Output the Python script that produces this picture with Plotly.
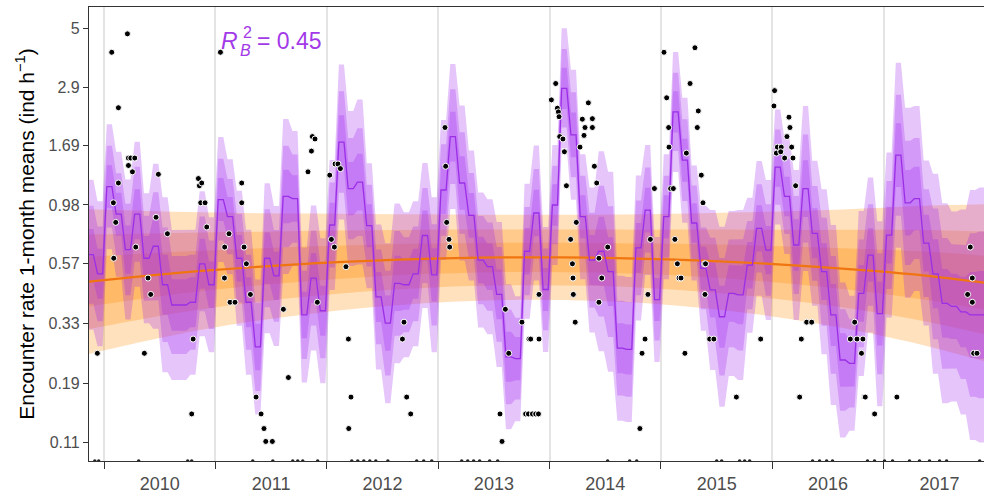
import math
import plotly.graph_objects as go

# ---------------------------------------------------------------------------
# Monthly model estimates (Nov 2009 - Dec 2017): posterior median encounter
# rate and log10 half-width of the 95% credible interval
# ---------------------------------------------------------------------------
first_year, first_month = 2009, 11

median_rate = [
    0.62, 0.52,
    1.16, 0.90, 0.65, 0.90, 0.60, 0.67, 0.47, 0.39, 0.39, 0.40, 0.57, 0.47,
    1.03, 0.88, 0.60, 0.40, 0.265, 0.60, 0.51, 1.06, 1.04, 0.356, 0.50, 0.37,
    0.815, 1.75, 1.14, 1.21, 0.81, 0.42, 0.33, 0.476, 0.47, 0.52, 0.74, 0.515,
    1.125, 1.84, 1.20, 0.89, 0.59, 0.555, 0.43, 0.242, 0.238, 0.64, 0.91, 0.45,
    0.98, 2.87, 1.87, 0.88, 0.59, 0.64, 0.53, 0.262, 0.259, 0.66, 0.935, 0.41,
    0.88, 2.31, 1.48, 0.83, 0.547, 0.448, 0.35, 0.434, 0.428, 0.563, 0.79, 0.647,
    1.39, 1.06, 0.678, 1.14, 0.755, 0.53, 0.356, 0.235, 0.228, 0.434, 0.618, 0.36,
    0.743, 1.55, 1.00, 1.04, 0.69, 0.52, 0.396, 0.385, 0.366, 0.356, 0.356, 0.50,
]

band_halfwidth = [
    0.30, 0.29,
    0.25, 0.25, 0.28, 0.29, 0.26, 0.33, 0.35, 0.30, 0.30, 0.29, 0.29, 0.27,
    0.25, 0.23, 0.27, 0.29, 0.27, 0.30, 0.28, 0.31, 0.27, 0.27, 0.29, 0.29,
    0.26, 0.31, 0.31, 0.33, 0.25, 0.29, 0.32, 0.32, 0.29, 0.29, 0.29, 0.31,
    0.28, 0.29, 0.31, 0.26, 0.27, 0.27, 0.29, 0.29, 0.25, 0.27, 0.27, 0.25,
    0.24, 0.24, 0.26, 0.25, 0.29, 0.40, 0.40, 0.29, 0.29, 0.29, 0.26, 0.25,
    0.25, 0.24, 0.25, 0.23, 0.25, 0.32, 0.36, 0.33, 0.34, 0.27, 0.27, 0.28,
    0.23, 0.23, 0.30, 0.33, 0.29, 0.33, 0.36, 0.31, 0.27, 0.33, 0.31, 0.37,
    0.33, 0.37, 0.38, 0.37, 0.33, 0.40, 0.40, 0.38, 0.41, 0.50, 0.51, 0.51,
]

# Long-term trend (median and log10 half-width of its 95% interval)
trend_time = [2009.85, 2010.375, 2010.875, 2011.375, 2011.875, 2012.375,
              2012.875, 2013.375, 2013.875, 2014.375, 2014.875, 2015.375,
              2015.875, 2016.375, 2016.875, 2017.375, 2017.92]
trend_rate = [0.483, 0.510, 0.534, 0.554, 0.572, 0.586, 0.597, 0.603, 0.605,
              0.603, 0.597, 0.587, 0.573, 0.555, 0.535, 0.511, 0.478]
trend_halfwidth = [0.29, 0.26, 0.235, 0.215, 0.20, 0.187, 0.178, 0.172, 0.17,
                   0.172, 0.178, 0.19, 0.205, 0.225, 0.25, 0.28, 0.315]

# Observed 1-month mean encounter rates (decimal year, ind/h)
obs_time = [
    2009.94, 2010.069, 2010.21, 2010.129, 2010.219, 2010.24, 2010.276, 2010.219,
    2010.255, 2010.129, 2010.084, 2010.105, 2010.087, 2010.285, 2010.488,
    2010.467, 2010.569, 2010.395, 2010.419, 2010.362, 2010.80, 2010.787,
    2010.847, 2010.856, 2010.877, 2010.868, 2010.907, 2010.922,
    2011.045, 2011.122, 2011.083, 2011.081, 2011.131, 2011.176,
    2011.236, 2011.236, 2011.257, 2011.278, 2011.314,
    2011.365, 2011.41, 2011.436, 2011.452, 2011.511,
    2011.61, 2011.655, 2011.831, 2011.862, 2011.87, 2011.894, 2011.915,
    2012.026, 2012.074, 2012.10, 2012.122, 2012.041, 2012.068,
    2012.172, 2012.194, 2012.217, 2012.197,
    2012.693, 2012.679, 2012.717, 2012.753,
    2013.061, 2013.067, 2013.076, 2013.097, 2013.103,
    2013.603, 2013.633, 2013.752, 2013.555, 2013.573,
    2013.815, 2013.83, 2013.905, 2013.905,
    2013.785, 2013.81, 2013.846, 2013.875, 2013.90,
    2014.016, 2014.055, 2014.07, 2014.079, 2014.085, 2014.091, 2014.12,
    2014.133, 2014.151,
    2014.273, 2014.294, 2014.318, 2014.309, 2014.348, 2014.384, 2014.384,
    2014.402, 2014.423,
    2014.24, 2014.189, 2014.205, 2014.21, 2014.213, 2014.23,
    2014.443, 2014.443, 2014.468, 2014.522,
    2014.811, 2014.83, 2014.857, 2014.883, 2014.905, 2014.941,
    2015.027, 2015.051, 2015.069, 2015.072, 2015.087, 2015.111,
    2015.228, 2015.261, 2015.125, 2015.147, 2015.162, 2015.18, 2015.215,
    2015.305, 2015.335, 2015.326, 2015.362, 2015.377, 2015.392, 2015.40,
    2015.395, 2015.437, 2015.475, 2015.677, 2015.895,
    2016.02, 2016.014, 2016.149, 2016.158, 2016.131, 2016.173, 2016.045,
    2016.08, 2016.036, 2016.075, 2016.11, 2016.185, 2016.209,
    2016.308, 2016.353, 2016.26, 2016.245,
    2016.739, 2016.70, 2016.76, 2016.813, 2016.80, 2016.825, 2016.834, 2016.918,
    2017.118, 2017.777, 2017.795, 2017.753, 2017.795, 2017.807, 2017.837,
]
obs_rate = [
    0.25, 4.0, 4.74, 2.40, 1.51, 1.51, 1.51, 1.41,
    1.33, 1.20, 1.0, 0.835, 0.60, 0.665, 1.30,
    0.875, 0.752, 0.50, 0.43, 0.25, 0.285, 0.143,
    1.25, 1.17, 1.20, 1.0, 1.0, 0.80,
    4.0, 0.752, 0.665, 0.50, 0.40, 0.40,
    1.20, 1.0, 0.665, 0.57, 0.43,
    0.167, 0.143, 0.125, 0.111, 0.111,
    0.375, 0.20, 1.33, 1.61, 1.84, 1.80, 0.40,
    1.29, 1.43, 1.43, 1.37, 0.714, 0.665,
    0.555, 0.285, 0.167, 0.125,
    0.333, 0.285, 0.167, 0.143,
    2.0, 1.40, 0.835, 0.714, 0.665,
    0.375, 0.25, 0.333, 0.143, 0.111,
    0.285, 0.285, 0.285, 0.43,
    0.143, 0.143, 0.143, 0.143, 0.143,
    2.58, 3.0, 2.39, 2.31, 2.21, 1.84, 1.80,
    1.60, 1.17,
    1.67, 2.16, 2.0, 1.86, 2.51, 2.17, 2.0,
    1.40, 1.20,
    0.835, 0.714, 0.57, 0.50, 0.43, 0.333,
    0.40, 0.60, 0.50, 0.665,
    0.125, 0.25, 0.285, 0.43, 0.714, 1.14,
    4.0, 2.63, 2.0, 1.67, 1.14, 1.14,
    1.58, 3.0, 0.714, 0.57, 0.50, 0.50, 0.25,
    4.17, 2.33, 2.0, 1.29, 1.0, 0.57, 0.57,
    0.43, 0.285, 0.285, 0.167, 0.285,
    2.81, 2.44, 2.20, 2.0, 1.84, 1.67, 1.67,
    1.67, 1.58, 1.60, 1.51, 1.51, 1.17,
    0.333, 0.333, 0.285, 0.167,
    0.333, 0.285, 0.285, 0.285, 0.25, 0.167, 0.167, 0.143,
    0.167, 0.665, 0.50, 0.43, 0.40, 0.25, 0.25,
]

# Months with a zero mean (no encounters)
zero_time = [
    2009.917, 2009.952, 2010.311, 2010.751, 2010.787, 2011.335, 2011.515,
    2011.694, 2011.739, 2011.784, 2011.918, 2012.224, 2012.278, 2012.332,
    2012.386, 2012.44, 2012.548, 2012.807, 2012.87, 2012.942, 2013.211,
    2013.265, 2013.318, 2013.372, 2013.462, 2013.534, 2014.521, 2014.719,
    2014.782, 2015.5, 2015.545, 2015.706, 2015.751, 2015.796, 2016.361,
    2016.424, 2016.487, 2016.54, 2016.854, 2016.917, 2017.007, 2017.079,
    2017.231, 2017.321, 2017.411, 2017.501, 2017.564, 2017.861,
]

year_ticks = [2010, 2011, 2012, 2013, 2014, 2015, 2016, 2017]
year_labels = [str(y) for y in year_ticks]
rate_ticks = [0.11, 0.19, 0.33, 0.57, 0.98, 1.69, 2.9, 5]
rate_labels = ["0.11", "0.19", "0.33", "0.57", "0.98", "1.69", "2.9", "5"]

r2_text = "0.45"

# ---------------------------------------------------------------------------
PURPLE = "#9B2FE6"
PURPLE_FILL = "rgba(160, 32, 240, 0.26)"
ORANGE = "#F07510"
ORANGE_FILL = "rgba(255, 140, 0, 0.26)"
LABEL_PURPLE = "#A23AE8"
FONT = "Liberation Sans, Arial, sans-serif"

# 50 %, 80 % and 95 % intervals as fractions of the 95 % half-width
levels = [1.0, 1.2816 / 1.96, 0.6745 / 1.96]

x_range = [2009.865, 2017.9]
y_range = [math.log10(0.0927), math.log10(6.07)]

# Each monthly estimate is held over most of its month
hold = (0.30 / 12, 0.85 / 12)
month_x, month_med, month_hw = [], [], []
for i, (m, hw) in enumerate(zip(median_rate, band_halfwidth)):
    start = first_year + (first_month - 1) / 12 + i / 12
    for h in hold:
        month_x.append(start + h)
        month_med.append(m)
        month_hw.append(hw)

fig = go.Figure()


def add_band(x, mid, hw, k, color, shape):
    lo = [v * 10 ** (-k * w) for v, w in zip(mid, hw)]
    hi = [v * 10 ** (k * w) for v, w in zip(mid, hw)]
    fig.add_trace(go.Scatter(x=x, y=lo, mode="lines", line=dict(width=0, shape=shape),
                             showlegend=False, hoverinfo="skip"))
    fig.add_trace(go.Scatter(x=x, y=hi, mode="lines", line=dict(width=0, shape=shape),
                             fill="tonexty", fillcolor=color,
                             showlegend=False, hoverinfo="skip"))


# trend intervals underneath, monthly intervals on top
for k in levels:
    add_band(trend_time, trend_rate, trend_halfwidth, k, ORANGE_FILL, "spline")
for k in levels:
    add_band(month_x, month_med, month_hw, k, PURPLE_FILL, "linear")

fig.add_trace(go.Scatter(x=trend_time, y=trend_rate, mode="lines",
                         line=dict(color=ORANGE, width=2.2, shape="spline"),
                         showlegend=False, hoverinfo="skip"))
fig.add_trace(go.Scatter(x=month_x, y=month_med, mode="lines",
                         line=dict(color=PURPLE, width=1.3),
                         showlegend=False, hoverinfo="skip"))

fig.add_trace(go.Scatter(x=obs_time, y=obs_rate, mode="markers",
                         marker=dict(color="black", size=6,
                                     line=dict(color="white", width=1)),
                         showlegend=False, hoverinfo="skip"))

# zero means sit on the lower edge of the log axis
floor_rate = 10 ** y_range[0]
fig.add_trace(go.Scatter(x=zero_time, y=[floor_rate] * len(zero_time), mode="markers",
                         marker=dict(color="#222222", size=3.5, line=dict(width=0)),
                         showlegend=False, hoverinfo="skip", cliponaxis=True))

# R_B^2 label, built from pieces so the super- and subscript stack
big, small = 23, 16


def label_piece(x, y, text, size, xanchor="center"):
    fig.add_annotation(x=x, y=y, xref="paper", yref="paper", text=text,
                       xanchor=xanchor, yanchor="middle", showarrow=False,
                       font=dict(size=size, color=LABEL_PURPLE, family=FONT))


label_piece(0.1565, 0.926, "<i>R</i>", big)
label_piece(0.1772, 0.944, "2", small)
label_piece(0.1745, 0.905, "<i>B</i>", small)
label_piece(0.1850, 0.926, "= " + r2_text, big, xanchor="left")

fig.update_layout(
    width=984, height=495,
    margin=dict(l=89, r=0, t=7, b=34),
    paper_bgcolor="white", plot_bgcolor="white",
    font=dict(family=FONT, color="#4D4D4D"),
    hovermode=False,
    xaxis=dict(
        range=x_range,
        tickmode="array",
        tickvals=[y + 0.5 for y in year_ticks],
        ticktext=year_labels,
        ticks="", showgrid=False, zeroline=False,
        showline=True, linecolor="#333333", linewidth=1.3, mirror=True,
        tickfont=dict(size=18, color="#4D4D4D"),
        ticklabelstandoff=6,
        minor=dict(tickmode="array", tickvals=year_ticks, ticks="outside",
                   ticklen=7, tickwidth=1.3, tickcolor="#333333",
                   showgrid=True, gridcolor="#E4E4E4", gridwidth=1.5),
    ),
    yaxis=dict(
        type="log", range=y_range,
        tickmode="array", tickvals=rate_ticks, ticktext=rate_labels,
        ticks="outside", ticklen=5, tickwidth=1.3, tickcolor="#333333",
        showgrid=False, zeroline=False,
        showline=True, linecolor="#333333", linewidth=1.3,
        tickfont=dict(size=16, color="#4D4D4D"),
        title=dict(text="Encounter rate 1-month means (ind h<sup>\u22121</sup>)",
                   font=dict(size=21, color="black"), standoff=8),
    ),
)

fig.write_html("out.html")
